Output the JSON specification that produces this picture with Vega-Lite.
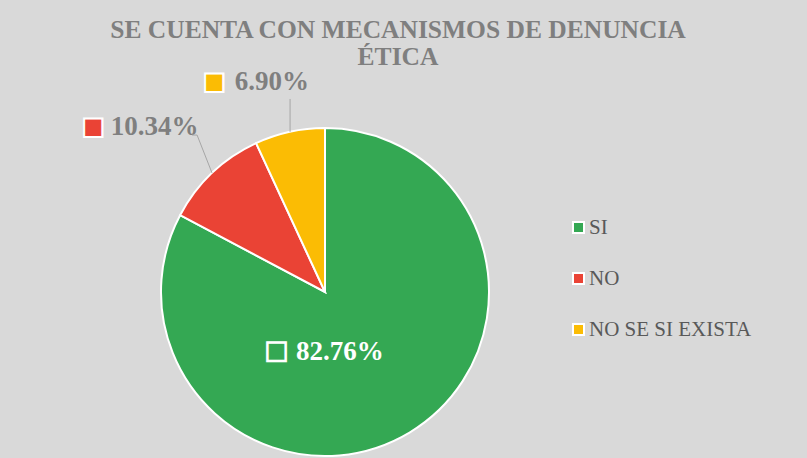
{
  "$schema": "https://vega.github.io/schema/vega-lite/v6.json",
  "width": 328,
  "height": 328,
  "autosize": {"type": "none"},
  "padding": {"left": 161, "top": 128, "right": 318, "bottom": 2},
  "background": "#d9d9d9",
  "title": {
    "text": ["SE CUENTA CON MECANISMOS DE DENUNCIA", "ÉTICA"],
    "anchor": "middle",
    "frame": "group",
    "dx": 73,
    "offset": -12,
    "font": "Liberation Serif, serif",
    "fontSize": 25.5,
    "fontWeight": "bold",
    "color": "#7f7f7f",
    "lineHeight": 27
  },
  "config": {
    "view": {"stroke": null},
    "legend": {
      "orient": "none",
      "legendX": 407,
      "legendY": 89,
      "symbolType": "square",
      "symbolSize": 121,
      "symbolStrokeColor": "white",
      "symbolStrokeWidth": 2,
      "symbolOpacity": 1,
      "labelFont": "Liberation Serif, serif",
      "labelFontSize": 21,
      "labelColor": "#595959",
      "labelOffset": 0,
      "labelLimit": 0,
      "rowPadding": 29,
      "title": null
    }
  },
  "layer": [
    {
      "data": {
        "values": [
          {"respuesta": "SI", "porcentaje": 82.76, "orden": 1, "etiqueta": "82.76%"},
          {"respuesta": "NO", "porcentaje": 10.34, "orden": 2, "etiqueta": "10.34%"},
          {"respuesta": "NO SE SI EXISTA", "porcentaje": 6.90, "orden": 3, "etiqueta": "6.90%"}
        ]
      },
      "encoding": {
        "theta": {"field": "porcentaje", "type": "quantitative", "stack": true},
        "order": {"field": "orden", "type": "quantitative"},
        "detail": {"field": "respuesta", "type": "nominal"},
        "color": {
          "field": "respuesta",
          "type": "nominal",
          "scale": {"domain": ["SI", "NO", "NO SE SI EXISTA"], "range": ["#34a853", "#ea4335", "#fbbc04"]},
          "legend": {"title": null}
        }
      },
      "layer": [
        {"mark": {"type": "arc", "stroke": "white", "strokeWidth": 2}},
        {
          "mark": {"type": "text", "radius": 60, "align": "left", "baseline": "middle", "dx": -60, "dy": 9, "font": "Liberation Serif, serif", "fontWeight": "bold", "fontSize": 27},
          "encoding": {
            "color": {"value": "white"},
            "text": {"condition": {"test": "datum.respuesta === 'SI'", "field": "etiqueta", "type": "nominal"}, "value": ""}
          }
        },
        {
          "mark": {"type": "text", "radius": 60, "align": "right", "baseline": "middle", "dx": -68, "dy": 8, "font": "DejaVu Sans", "fontSize": 24, "stroke": "white", "strokeWidth": 2.5},
          "encoding": {
            "text": {"condition": {"test": "datum.respuesta === 'SI'", "value": "■"}, "value": ""}
          }
        },
        {
          "mark": {"type": "text", "radius": 220, "align": "left", "baseline": "middle", "dx": -63, "dy": -5, "font": "Liberation Serif, serif", "fontWeight": "bold", "fontSize": 27},
          "encoding": {
            "color": {"value": "#7f7f7f"},
            "text": {"condition": {"test": "datum.respuesta === 'NO'", "field": "etiqueta", "type": "nominal"}, "value": ""}
          }
        },
        {
          "mark": {"type": "text", "radius": 220, "align": "right", "baseline": "middle", "dx": -69, "dy": -5, "font": "DejaVu Sans", "fontSize": 24, "stroke": "white", "strokeWidth": 2},
          "encoding": {
            "text": {"condition": {"test": "datum.respuesta === 'NO'", "value": "■"}, "value": ""}
          }
        },
        {
          "mark": {"type": "text", "radius": 220, "align": "left", "baseline": "middle", "dx": -43, "dy": 5, "font": "Liberation Serif, serif", "fontWeight": "bold", "fontSize": 27},
          "encoding": {
            "color": {"value": "#7f7f7f"},
            "text": {"condition": {"test": "datum.respuesta === 'NO SE SI EXISTA'", "field": "etiqueta", "type": "nominal"}, "value": ""}
          }
        },
        {
          "mark": {"type": "text", "radius": 220, "align": "right", "baseline": "middle", "dx": -52, "dy": 5, "font": "DejaVu Sans", "fontSize": 24, "stroke": "white", "strokeWidth": 2},
          "encoding": {
            "text": {"condition": {"test": "datum.respuesta === 'NO SE SI EXISTA'", "value": "■"}, "value": ""}
          }
        }
      ]
    },
    {
      "data": {
        "values": [
          {"linea": "NO", "paso": 1, "x": -0.811, "y": 0.957},
          {"linea": "NO", "paso": 2, "x": -0.780, "y": 0.957},
          {"linea": "NO", "paso": 3, "x": -0.689, "y": 0.726},
          {"linea": "NO SE SI EXISTA", "paso": 1, "x": -0.213, "y": 1.177},
          {"linea": "NO SE SI EXISTA", "paso": 2, "x": -0.213, "y": 0.977}
        ]
      },
      "mark": {"type": "line", "color": "#a6a6a6", "strokeWidth": 1},
      "encoding": {
        "x": {"field": "x", "type": "quantitative", "scale": {"domain": [-1, 1]}, "axis": null},
        "y": {"field": "y", "type": "quantitative", "scale": {"domain": [-1, 1]}, "axis": null},
        "detail": {"field": "linea", "type": "nominal"},
        "order": {"field": "paso", "type": "quantitative"}
      }
    }
  ]
}
